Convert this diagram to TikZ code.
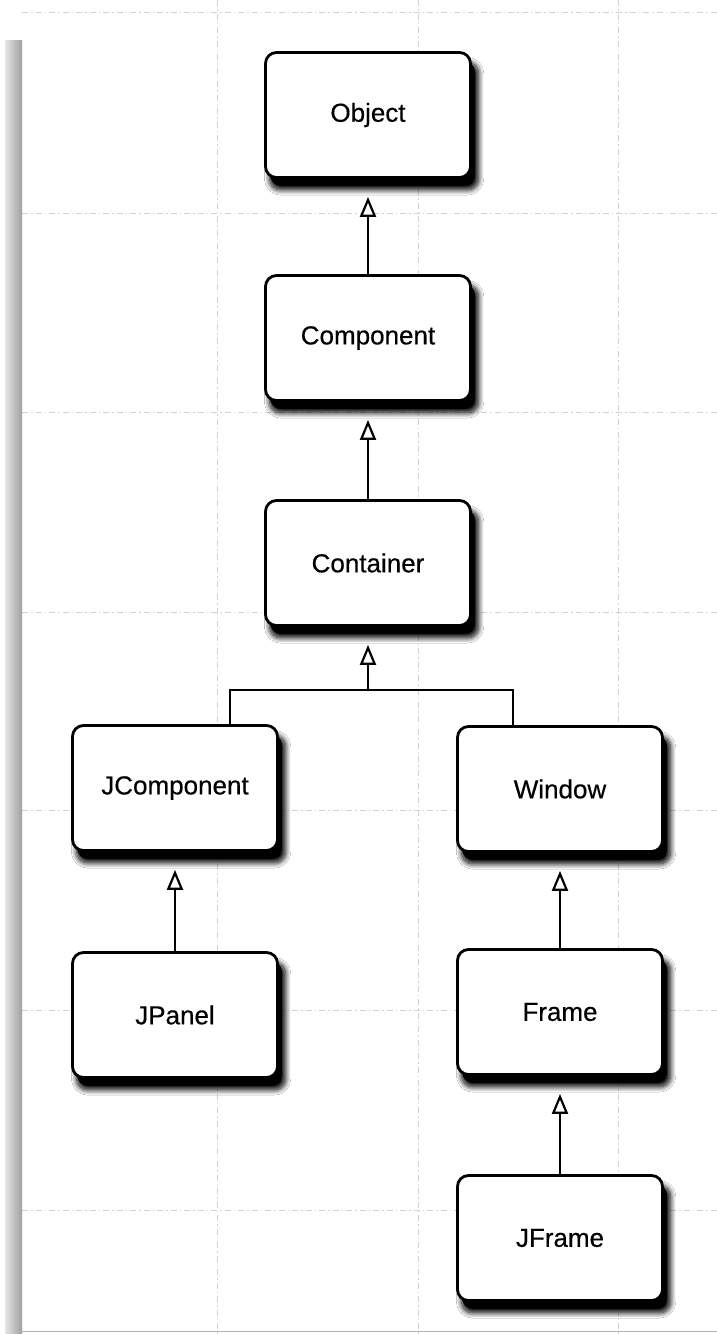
\documentclass[tikz,border=0pt]{standalone}
\usepackage{fontspec}
\setmainfont{Liberation Sans}
\newfontfamily\clsfont[FakeBold=0.4]{Liberation Sans}
\usetikzlibrary{arrows.meta,shadows.blur}
\begin{document}
\begin{tikzpicture}[x=1pt,y=-1pt,
  cls/.style={draw=black, line width=2.8pt, rounded corners=11pt, fill=white,
    minimum width=205pt, minimum height=125pt, inner sep=0pt,
    font=\clsfont\fontsize{26}{30}\selectfont,
    blur shadow={shadow xshift=6pt, shadow yshift=-11pt, shadow scale=1.02, shadow blur radius=5pt, shadow blur steps=12, shadow opacity=100},
    drop shadow={shadow xshift=4.5pt, shadow yshift=-8.5pt, fill=black, opacity=0.95}},
  inh/.style={line width=2.4pt, -{Triangle[open, fill=white, length=20pt, width=16pt, line width=2.2pt]}, shorten >=18pt},
  link/.style={line width=2.4pt},
  gridline/.style={gray!35, line width=0.8pt, dash pattern=on 6pt off 3pt on 1.5pt off 3pt}]
\useasboundingbox (0,0) rectangle (717,1334);
\fill[white] (0,0) rectangle (717,1334);
% background graph-paper grid
\foreach \gx in {217,418,618} \draw[gridline] (\gx,0) -- (\gx,1334);
\foreach \gy in {12,213,412,612,810,1010,1210} \draw[gridline] (22,\gy) -- (717,\gy);
% left binding edge and bottom edge
\shade[left color=gray!20, right color=gray!75] (5,40) rectangle (22,1334);
\draw[gray!60, line width=1pt] (22,1331) -- (717,1331);
% classes
\node[cls] (obj)    at (368,115)  {Object};
\node[cls] (comp)   at (368,338)  {Component};
\node[cls] (cont)   at (368,563)  {Container};
\node[cls] (jcomp)  at (175,788)  {JComponent};
\node[cls] (win)    at (560,789)  {Window};
\node[cls] (jpanel) at (175,1015) {JPanel};
\node[cls] (frame)  at (560,1012) {Frame};
\node[cls] (jframe) at (560,1238) {JFrame};
% connectors
\draw[inh] (comp.north) -- (obj.south);
\draw[inh] (cont.north) -- (comp.south);
\coordinate (bL) at (230,690);
\coordinate (bR) at (513,690);
\coordinate (bM) at (cont.south |- bL);
\draw[link, line join=miter] (bL |- jcomp.north) -- (bL) -- (bR) -- (bR |- win.north);
\draw[inh] (bM) -- (cont.south);
\draw[inh] (jpanel.north) -- (jcomp.south);
\draw[inh] (frame.north) -- (win.south);
\draw[inh] (jframe.north) -- (frame.south);
\end{tikzpicture}
\end{document}
